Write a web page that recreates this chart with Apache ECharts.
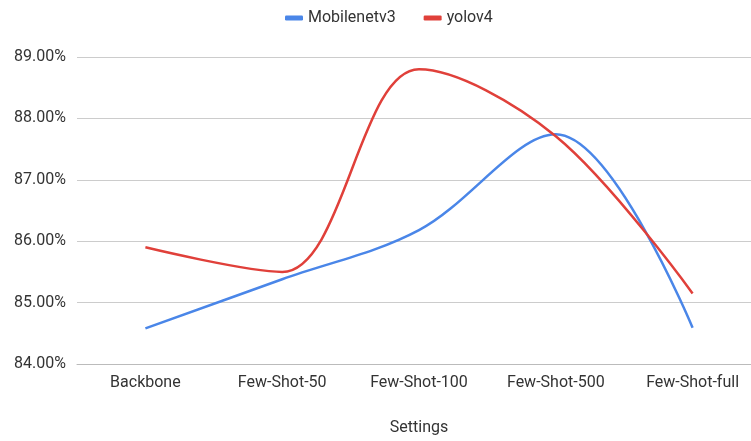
<!DOCTYPE html>
<html><head><meta charset="utf-8">
<script src="https://cdn.jsdelivr.net/npm/echarts@6/dist/echarts.min.js"></script>
<style>html,body{margin:0;padding:0;background:#fff;overflow:hidden}#c{width:761px;height:441px}</style>
</head><body><div id="c"></div>
<script>
const categories = ['Backbone', 'Few-Shot-50', 'Few-Shot-100', 'Few-Shot-500', 'Few-Shot-full'];
const mobilenetv3 = [84.58, 85.38, 86.18, 87.74, 84.59];
const yolov4 = [85.9, 85.5, 88.8, 87.71, 85.15];
const yTicks = [84, 85, 86, 87, 88, 89];

const chart = echarts.init(document.getElementById('c'));
chart.setOption({
  animation: false,
  textStyle: { fontFamily: 'Roboto, Arial, sans-serif' },
  legend: {
    top: 5, left: 280,
    icon: 'roundRect', itemWidth: 18, itemHeight: 5, itemGap: 28,
    textStyle: { fontSize: 16, color: '#333' },
    data: ['Mobilenetv3', 'yolov4']
  },
  grid: { left: 77, right: 0, top: 57, height: 309 },
  xAxis: {
    type: 'category', data: categories, boundaryGap: true,
    name: 'Settings', nameLocation: 'middle', nameGap: 56,
    nameTextStyle: { fontSize: 16, color: '#333' },
    axisLine: { lineStyle: { color: '#bbb' } },
    axisTick: { show: false },
    axisLabel: { fontSize: 16, color: '#333', margin: 11 }
  },
  yAxis: {
    type: 'value', min: yTicks[0], max: yTicks[yTicks.length - 1], interval: 1,
    axisLine: { show: false }, axisTick: { show: false },
    splitLine: { lineStyle: { color: '#ccc' } },
    axisLabel: { fontSize: 16, color: '#333', margin: 11, formatter: v => v.toFixed(2) + '%' }
  },
  series: [
    { name: 'Mobilenetv3', type: 'line', data: mobilenetv3, smooth: 0.35, showSymbol: false, symbol: 'none',
      itemStyle: { color: '#4a86e8' }, lineStyle: { width: 2.5, color: '#4a86e8' } },
    { name: 'yolov4', type: 'line', data: yolov4, smooth: 0.35, showSymbol: false, symbol: 'none',
      itemStyle: { color: '#e0403a' }, lineStyle: { width: 2.5, color: '#e0403a' } }
  ]
});
</script></body></html>
